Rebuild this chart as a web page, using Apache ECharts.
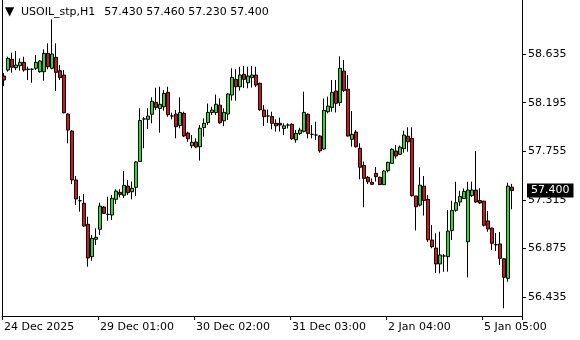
<!DOCTYPE html>
<html>
<head>
<meta charset="utf-8">
<script src="https://cdn.jsdelivr.net/npm/echarts@6/dist/echarts.min.js"></script>
<style>
html,body{margin:0;padding:0;background:#fff;}
#chart{width:580px;height:340px;}
</style>
</head>
<body>
<div id="chart"></div>
<script>
const symbolName = 'USOIL_stp,H1';
const tickIndex = [0, 24, 48, 72, 96, 120];
const tickLabels = ['24 Dec 2025', '29 Dec 01:00', '30 Dec 02:00', '31 Dec 03:00', '2 Jan 04:00', '5 Jan 05:00'];
const yTicks = [56.435, 56.875, 57.315, 57.755, 58.195, 58.635];
const barSlots = 130;

const openP = [
58.436,58.490,58.587,58.511,58.529,58.560,58.495,58.497,58.506,58.475,
58.475,58.641,58.506,58.605,58.484,58.445,58.092,57.938,57.495,57.307,
57.284,57.094,56.801,56.958,57.049,57.250,57.184,57.178,57.320,57.383,
57.356,57.440,57.389,57.429,57.662,58.047,58.044,58.090,58.198,58.142,
58.158,58.288,58.074,58.092,57.988,58.098,57.920,57.805,57.839,57.796,
57.970,58.015,58.106,58.106,58.172,58.031,58.092,58.264,58.406,58.339,
58.451,58.375,58.422,58.445,58.370,58.128,58.074,58.069,58.008,58.008,
57.961,57.992,57.999,57.859,57.916,57.935,58.090,57.908,57.902,57.893,
57.775,58.113,58.151,58.300,58.196,58.481,58.316,57.863,57.929,57.782,
57.626,57.519,57.474,57.555,57.519,57.453,57.579,57.646,57.757,57.727,
57.778,57.891,57.872,57.350,57.268,57.439,57.320,56.952,56.879,56.735,
56.807,56.801,57.038,57.221,57.296,57.327,56.936,57.354,57.404,57.309,
57.303,57.124,57.060,56.909,56.916,56.782,56.605,57.430
];
const closeP = [
58.400,58.596,58.515,58.535,58.560,58.490,58.498,58.497,58.560,58.572,
58.641,58.520,58.635,58.469,58.421,58.104,57.947,57.495,57.323,57.307,
57.078,56.789,56.967,56.976,57.259,57.193,57.184,57.329,57.395,57.363,
57.447,57.380,57.420,57.658,58.033,58.047,58.074,58.207,58.151,58.180,
58.279,58.086,58.074,57.977,58.106,57.893,57.868,57.836,57.793,57.963,
58.008,58.107,58.128,58.181,58.013,58.107,58.273,58.424,58.339,58.445,
58.406,58.436,58.445,58.354,58.131,58.068,58.074,58.008,57.985,57.992,
57.985,57.992,57.868,57.917,57.947,58.107,57.916,57.908,57.902,57.759,
58.125,58.164,58.288,58.189,58.506,58.305,57.893,57.908,57.796,57.610,
57.510,57.479,57.456,57.525,57.453,57.576,57.655,57.773,57.712,57.793,
57.902,57.841,57.353,57.253,57.448,57.309,56.954,56.891,56.735,56.816,
56.807,57.033,57.219,57.289,57.345,57.391,57.404,57.404,57.296,57.287,
57.085,57.051,56.922,56.909,56.786,56.614,57.440,57.400
];
const highP = [
58.463,58.611,58.647,58.662,58.596,58.611,58.520,58.506,58.626,58.581,
58.677,58.732,58.949,58.732,58.535,58.490,58.098,57.947,57.531,57.350,
57.368,57.163,56.997,57.058,57.289,57.259,57.344,57.359,57.411,57.411,
57.576,57.495,57.481,57.667,58.144,58.065,58.144,58.243,58.330,58.339,
58.309,58.339,58.104,58.128,58.243,58.113,57.932,57.902,57.872,57.992,
58.053,58.187,58.158,58.268,58.234,58.144,58.279,58.506,58.497,58.520,
58.526,58.520,58.526,58.520,58.375,58.173,58.133,58.113,58.044,58.060,
58.008,58.008,58.008,57.947,57.968,58.294,58.098,57.992,58.022,57.902,
58.232,58.249,58.400,58.400,58.614,58.581,58.445,58.119,57.947,57.827,
57.662,57.531,57.508,57.612,57.526,57.585,57.660,57.782,57.811,57.807,
57.941,57.972,57.972,57.350,57.610,57.531,57.359,57.087,57.012,57.027,
56.825,57.223,57.307,57.479,57.398,57.418,57.479,57.481,57.757,57.420,
57.307,57.214,57.062,57.015,57.024,56.786,57.470,57.460
];
const lowP = [
58.345,58.475,58.466,58.490,58.484,58.475,58.400,58.375,58.490,58.466,
58.393,58.497,58.497,58.300,58.400,58.098,57.827,57.458,57.268,57.208,
57.072,56.710,56.764,56.906,56.997,57.187,57.126,57.133,57.278,57.338,
57.332,57.359,57.320,57.350,57.660,57.782,57.956,58.008,58.128,57.923,
58.122,58.068,58.044,57.872,57.963,57.884,57.841,57.782,57.782,57.671,
57.887,57.992,58.083,58.083,58.002,57.983,58.038,58.214,58.212,58.305,
58.327,58.325,58.332,58.336,58.122,57.983,58.012,57.954,57.932,57.934,
57.902,57.961,57.859,57.832,57.902,57.925,57.872,57.872,57.857,57.742,
57.766,58.098,58.113,58.106,58.164,58.291,57.888,57.796,57.789,57.501,
57.248,57.458,57.450,57.481,57.450,57.450,57.563,57.644,57.689,57.721,
57.742,57.751,57.345,57.038,57.255,57.173,56.936,56.877,56.653,56.650,
56.665,56.665,56.952,57.208,57.259,57.323,56.614,57.341,57.287,57.278,
57.074,57.027,56.861,56.852,56.725,56.334,56.574,57.230
];

const FONT = 'DejaVu Sans';
const n = openP.length;
const last = n - 1;
const categories = Array.from({length: barSlots}, (_, i) => String(i));
const candleData = openP.map((o, i) => [o, closeP[i], lowP[i], highP[i]]);
const ohlcText = [openP[last], highP[last], lowP[last], closeP[last]].map(v => v.toFixed(3)).join(' ');
const isTick = (idx) => tickIndex.indexOf(idx) >= 0;

const chart = echarts.init(document.getElementById('chart'), null, {renderer: 'canvas'});
chart.setOption({
  animation: false,
  backgroundColor: '#ffffff',
  title: {
    left: 5, top: 6, padding: 0,
    text: '{tri|▼}{nm|' + symbolName + '}{v|' + ohlcText + '}',
    textStyle: {
      fontFamily: FONT, fontSize: 11, fontWeight: 'normal', color: '#000',
      rich: {
        tri: {fontFamily: FONT, fontSize: 12, color: '#000', width: 16},
        nm: {fontFamily: FONT, fontSize: 11, color: '#000'},
        v: {fontFamily: FONT, fontSize: 11, color: '#000', padding: [0, 0, 0, 9]}
      }
    }
  },
  grid: {left: 2, right: 58, top: 0, bottom: 24, containLabel: false},
  xAxis: {
    type: 'category',
    data: categories,
    boundaryGap: true,
    axisLine: {show: true, lineStyle: {color: '#000', width: 1}},
    axisTick: {show: true, interval: (idx) => isTick(idx), length: 4, lineStyle: {color: '#000'}},
    axisLabel: {
      show: true, interval: (idx) => isTick(idx), align: 'left', margin: 6,
      fontFamily: FONT, fontSize: 11, color: '#000',
      formatter: (val, idx) => { const k = tickIndex.indexOf(Number(val)); return k >= 0 ? tickLabels[k] : ''; }
    },
    splitLine: {show: false}
  },
  yAxis: [{
    type: 'value', position: 'right',
    min: 56.264, max: 59.124,
    axisLine: {show: true, lineStyle: {color: '#000', width: 1}},
    axisTick: {show: true, customValues: yTicks, length: 4, lineStyle: {color: '#000'}},
    axisLabel: {show: true, customValues: yTicks, margin: 6, fontFamily: FONT, fontSize: 11, color: '#000',
      formatter: (v) => Number(v).toFixed(3)},
    splitLine: {show: false}
  }, {
    type: 'value', position: 'left',
    min: 56.264, max: 59.124,
    axisLine: {show: true, lineStyle: {color: '#000', width: 1}},
    axisTick: {show: false}, axisLabel: {show: false}, splitLine: {show: false}
  }],
  series: [{
    type: 'candlestick',
    yAxisIndex: 0,
    data: candleData,
    barWidth: 3,
    itemStyle: {
      color: '#22e022', color0: '#e01010',
      borderColor: '#000', borderColor0: '#000', borderColorDoji: '#000', borderWidth: 1
    },
    markLine: {
      silent: true, symbol: 'none', animation: false,
      lineStyle: {color: 'rgba(0,0,0,0)', width: 0},
      data: [{yAxis: closeP[last]}],
      label: {
        show: true, position: 'end', distance: 5,
        formatter: closeP[last].toFixed(3),
        backgroundColor: '#000', color: '#fff',
        fontFamily: FONT, fontSize: 11, padding: [2, 4, 1, 4]
      }
    },
    z: 5
  }]
});
</script>
</body>
</html>
